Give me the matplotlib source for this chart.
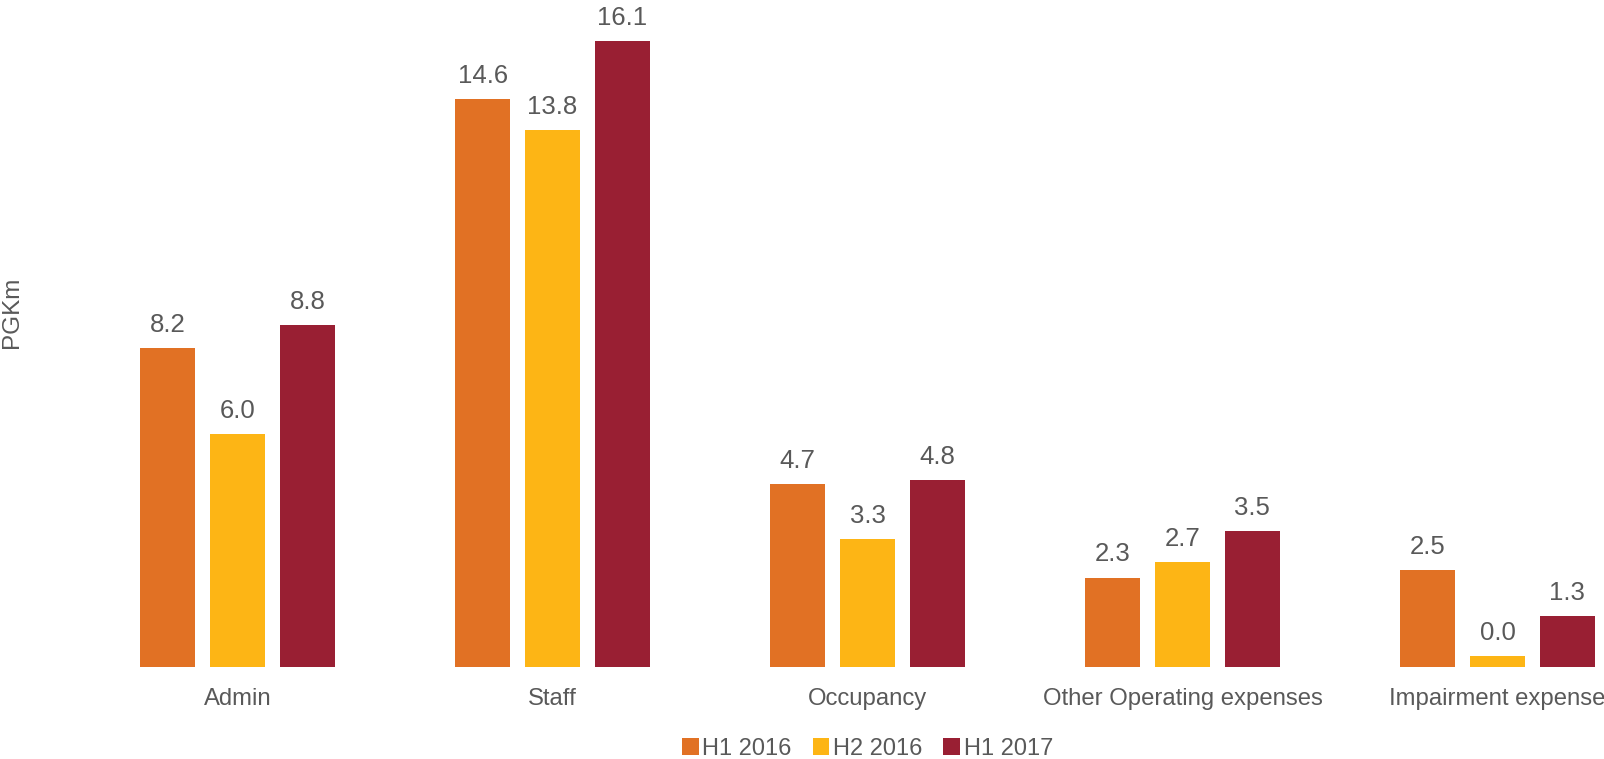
import matplotlib.pyplot as plt
import numpy as np

plt.rcParams['font.family'] = ['Liberation Sans', 'DejaVu Sans']

categories = ['Admin', 'Staff', 'Occupancy', 'Other Operating expenses', 'Impairment expense']
series = ['H1 2016', 'H2 2016', 'H1 2017']
h1_2016 = [8.2, 14.6, 4.7, 2.3, 2.5]
h2_2016 = [6.0, 13.8, 3.3, 2.7, 0.28]
h1_2017 = [8.8, 16.1, 4.8, 3.5, 1.3]
labels = [
    ['8.2', '14.6', '4.7', '2.3', '2.5'],
    ['6.0', '13.8', '3.3', '2.7', '0.0'],
    ['8.8', '16.1', '4.8', '3.5', '1.3'],
]
colors = ['#E17124', '#FDB515', '#991F33']
text_col = '#595959'

fig = plt.figure(figsize=(16.04, 7.59), dpi=100)
# axes runs past the right edge, the last label is cut like in the original
ax = fig.add_axes([80 / 1604, 92 / 759, 5 * 315 / 1604, 661 / 759])

x = np.arange(len(categories))
w = 0.175
pitch = 0.222
for i, (vals, c) in enumerate(zip([h1_2016, h2_2016, h1_2017], colors)):
    bars = ax.bar(x + (i - 1) * pitch, vals, w, color=c, label=series[i])
    for b, t in zip(bars, labels[i]):
        ax.annotate(t, (b.get_x() + b.get_width() / 2, b.get_height()),
                    xytext=(0, 8), textcoords='offset points',
                    ha='center', va='bottom', fontsize=18.5, color=text_col)

ax.set_xlim(-0.5, len(categories) - 0.5)
ax.set_ylim(0, 17)
ax.set_xticks(x)
ax.set_xticklabels(categories, fontsize=17.2, color=text_col)
ax.tick_params(axis='x', length=0, pad=15)
ax.set_yticks([])
for s in ax.spines.values():
    s.set_visible(False)

fig.text(12 / 1604, 1 - 312 / 759, 'PGKm', rotation=90, ha='center', va='center',
         fontsize=17.5, color=text_col)

leg = ax.legend(loc='center', bbox_to_anchor=(0.5, -0.124), ncol=3, frameon=False,
                fontsize=17, handlelength=0.7, handleheight=0.7, handletextpad=0.15,
                columnspacing=0.9)
for t in leg.get_texts():
    t.set_color(text_col)

fig.savefig('out.png', dpi=100)
